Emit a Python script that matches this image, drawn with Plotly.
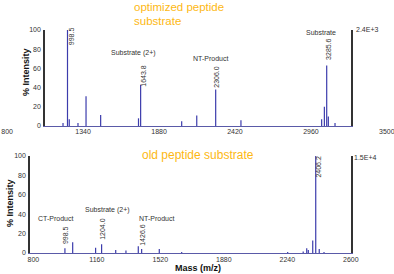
import plotly.graph_objects as go

# ---------------- data ----------------
TOP_MASS = [959, 998.5, 1014, 1091, 1162, 1291, 1625, 1643.8, 2006, 2139, 2306.0, 2529, 3241, 3265, 3285.6, 3300, 3359]
TOP_INT = [3, 100, 7, 3, 31, 11.5, 8, 43, 5, 11, 38, 6, 7, 20, 63, 10, 3]

BOT_MASS = [979, 1023, 1153, 1187, 1267, 1325, 1395, 1414, 1514, 1641, 2242, 2330, 2350, 2359, 2384, 2401, 2421, 2448]
BOT_INT = [5, 11, 5.5, 9, 3, 2.5, 7, 4, 4, 1, 1, 1.5, 5, 3, 13, 100, 4, 1]

TOP_TICKS = [800, 1340, 1880, 2420, 2960, 3500]
BOT_TICKS = [800, 1160, 1520, 1880, 2240, 2600]
Y_TICKS = [0, 20, 40, 60, 80, 100]

TOP_TITLE = ["optimized peptide", "substrate"]
BOT_TITLE = "old peptide substrate"
TOP_SCALE = "2.4E+3"
BOT_SCALE = "1.5E+4"

# (text, x, y, textangle, xshift)
TOP_LABELS = [
    ("CT-Product", 915, 112, 0, 0),
    ("998.5", 998.5, 93, -90, 4),
    ("Substrate (2+)", 1585, 76, 0, 0),
    ("1643.8", 1643.8, 52, -90, 2),
    ("NT-Product", 2256, 70, 0, 0),
    ("2306.0", 2306.0, 51, -90, 0),
    ("Substrate", 3235, 97, 0, 0),
    ("3285.6", 3285.6, 80, -90, 1),
]
BOT_LABELS = [
    ("CT-Product", 923, 35.7, 0, 0),
    ("998.5", 979, 18.4, -90, 0),
    ("Substrate (2+)", 1223, 43.9, 0, 0),
    ("1204.0", 1187, 24.5, -90, 1),
    ("NT-Product", 1501, 35.7, 0, 0),
    ("1426.6", 1414, 18.4, -90, 1),
    ("Substrate", 2414, 106, 0, 0),
    ("2406.2", 2401, 88.8, -90, 3),
]

W, H = 394, 274
FONT = "Liberation Sans, Arial, sans-serif"
SPEC = "#3c3cac"
ORANGE = "#FDB813"
AX = "#333333"


def sticks(xs, ys):
    X, Y = [], []
    for m, h in zip(xs, ys):
        X += [m, m, None]
        Y += [0, h, None]
    return X, Y


fig = go.Figure()
# invisible trace to create the top tick-label axis (drawn first)
fig.add_trace(go.Scatter(x=[TOP_TICKS[0], TOP_TICKS[-1]], y=[0, 0], mode="markers",
                         marker=dict(opacity=0), xaxis="x3", yaxis="y",
                         hoverinfo="skip", showlegend=False))
tx, ty = sticks(TOP_MASS, TOP_INT)
fig.add_trace(go.Scatter(x=tx, y=ty, mode="lines", line=dict(color=SPEC, width=1.2),
                         xaxis="x", yaxis="y", hoverinfo="skip", showlegend=False))
bx, by = sticks(BOT_MASS, BOT_INT)
fig.add_trace(go.Scatter(x=bx, y=by, mode="lines", line=dict(color=SPEC, width=1.2),
                         xaxis="x2", yaxis="y2", hoverinfo="skip", showlegend=False))

top_y0, top_y1 = 1 - 126 / H, 1 - 30 / H
bot_y0, bot_y1 = 1 - 253 / H, 1 - 156 / H

tickfont = dict(family=FONT, size=7, color=AX)

fig.update_layout(
    template="none",
    width=W, height=H,
    margin=dict(l=0, r=0, t=0, b=0, pad=0),
    paper_bgcolor="white", plot_bgcolor="rgba(0,0,0,0)",
    font=dict(family=FONT, color=AX),
    showlegend=False,
    xaxis=dict(domain=[45 / W, 351 / W], range=[800, 3500], showticklabels=False,
               showgrid=False, zeroline=False, showline=True, linecolor="#5a5aa8",
               linewidth=1, ticks="", anchor="y", automargin=False),
    yaxis=dict(domain=[top_y0, top_y1], range=[0, 100], tickvals=Y_TICKS,
               showgrid=False, zeroline=False, showline=True, mirror=True,
               linecolor=AX, linewidth=1.5, ticks="", tickfont=tickfont,
               ticklabelstandoff=1, anchor="x", automargin=False),
    xaxis3=dict(domain=[7 / W, 387 / W], range=[799, 3501], tickvals=TOP_TICKS,
                showgrid=False, zeroline=False, showline=False, ticks="",
                tickfont=tickfont, anchor="y", automargin=False,
                ticklabeloverflow="allow"),
    xaxis2=dict(domain=[30 / W, 351 / W], range=[781, 2601], tickvals=BOT_TICKS,
                showgrid=False, zeroline=False, showline=True, linecolor="#5a5aa8",
                linewidth=1, ticks="", tickfont=tickfont, anchor="y2", automargin=False,
                ticklabeloverflow="allow"),
    yaxis2=dict(domain=[bot_y0, bot_y1], range=[0, 100], tickvals=Y_TICKS,
                showgrid=False, zeroline=False, showline=True, mirror=True,
                linecolor=AX, linewidth=1.5, ticks="", tickfont=tickfont,
                ticklabelstandoff=1, anchor="x2", automargin=False),
)

ann = []
lab_font = dict(family=FONT, size=7, color=AX)
for t, x, y, a, s in TOP_LABELS:
    ann.append(dict(text=t, x=x, y=y, xref="x", yref="y", showarrow=False,
                    textangle=a, xshift=s, font=lab_font))
for t, x, y, a, s in BOT_LABELS:
    ann.append(dict(text=t, x=x, y=y, xref="x2", yref="y2", showarrow=False,
                    textangle=a, xshift=s, font=lab_font))


def paper_note(text, x, y, font, xanchor="center", angle=0):
    return dict(text=text, x=x / W, y=1 - y / H, xref="paper", yref="paper",
                xanchor=xanchor, yanchor="middle", showarrow=False, font=font,
                textangle=angle)


title_font = dict(family=FONT, size=12, color=ORANGE)
ann.append(paper_note(TOP_TITLE[0], 132, 7, dict(title_font, size=11.5), "left"))
ann.append(paper_note(TOP_TITLE[1], 132, 21, dict(title_font, size=11.5), "left"))
ann.append(paper_note(BOT_TITLE, 140, 155, title_font, "left"))

ann.append(paper_note(TOP_SCALE, 354, 30, lab_font, "left"))
ann.append(paper_note(BOT_SCALE, 352, 157, lab_font, "left"))

bold = dict(family=FONT, size=9, color="#111111")
ann.append(paper_note("<b>% Intensity</b>", 26, 72, bold, "center", -90))
ann.append(paper_note("<b>% Intensity</b>", 10, 203, bold, "center", -90))
ann.append(paper_note("<b>Mass (m/z)</b>", 198, 268, bold, "center"))

fig.update_layout(annotations=ann)
fig.write_html("out.html",
               config={"displayModeBar": False},
               post_script="document.body.style.margin='0';document.body.style.overflow='hidden';")
